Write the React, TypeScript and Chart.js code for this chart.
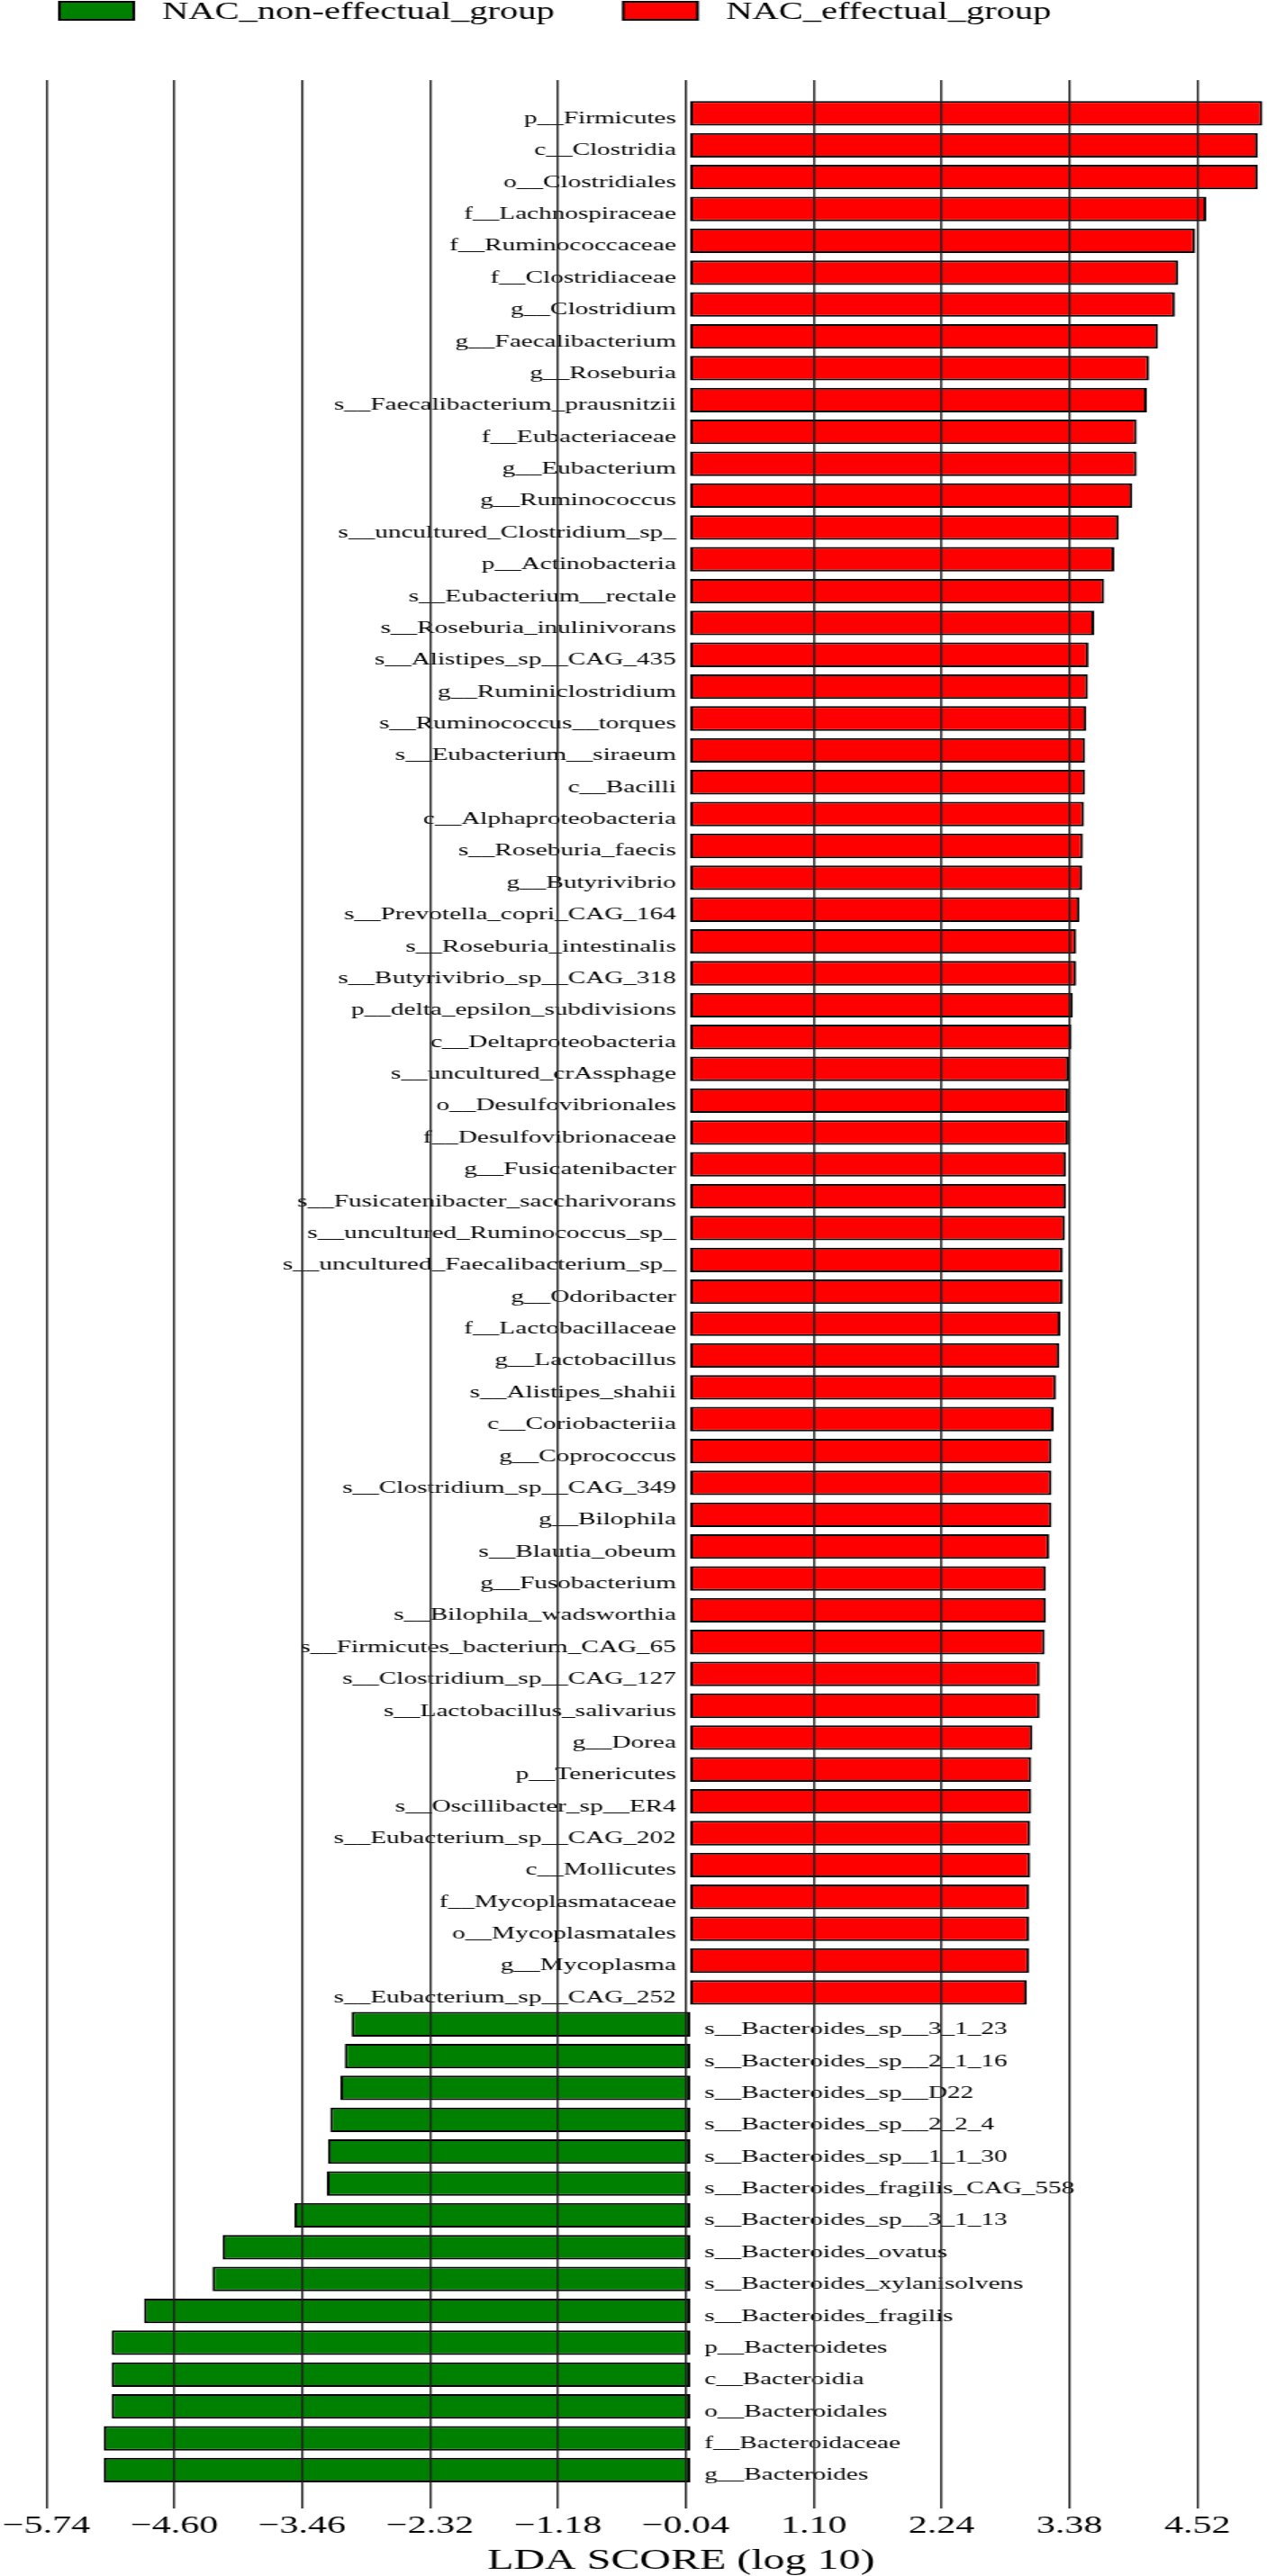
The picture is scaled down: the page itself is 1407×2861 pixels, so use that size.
import React, { useEffect, useRef } from "react";
import { Chart, registerables } from "chart.js";

Chart.register(...registerables);

// ---- data ----
const effectualLabels = [
  "p__Firmicutes",
  "c__Clostridia",
  "o__Clostridiales",
  "f__Lachnospiraceae",
  "f__Ruminococcaceae",
  "f__Clostridiaceae",
  "g__Clostridium",
  "g__Faecalibacterium",
  "g__Roseburia",
  "s__Faecalibacterium_prausnitzii",
  "f__Eubacteriaceae",
  "g__Eubacterium",
  "g__Ruminococcus",
  "s__uncultured_Clostridium_sp_",
  "p__Actinobacteria",
  "s__Eubacterium__rectale",
  "s__Roseburia_inulinivorans",
  "s__Alistipes_sp__CAG_435",
  "g__Ruminiclostridium",
  "s__Ruminococcus__torques",
  "s__Eubacterium__siraeum",
  "c__Bacilli",
  "c__Alphaproteobacteria",
  "s__Roseburia_faecis",
  "g__Butyrivibrio",
  "s__Prevotella_copri_CAG_164",
  "s__Roseburia_intestinalis",
  "s__Butyrivibrio_sp__CAG_318",
  "p__delta_epsilon_subdivisions",
  "c__Deltaproteobacteria",
  "s__uncultured_crAssphage",
  "o__Desulfovibrionales",
  "f__Desulfovibrionaceae",
  "g__Fusicatenibacter",
  "s__Fusicatenibacter_saccharivorans",
  "s__uncultured_Ruminococcus_sp_",
  "s__uncultured_Faecalibacterium_sp_",
  "g__Odoribacter",
  "f__Lactobacillaceae",
  "g__Lactobacillus",
  "s__Alistipes_shahii",
  "c__Coriobacteriia",
  "g__Coprococcus",
  "s__Clostridium_sp__CAG_349",
  "g__Bilophila",
  "s__Blautia_obeum",
  "g__Fusobacterium",
  "s__Bilophila_wadsworthia",
  "s__Firmicutes_bacterium_CAG_65",
  "s__Clostridium_sp__CAG_127",
  "s__Lactobacillus_salivarius",
  "g__Dorea",
  "p__Tenericutes",
  "s__Oscillibacter_sp__ER4",
  "s__Eubacterium_sp__CAG_202",
  "c__Mollicutes",
  "f__Mycoplasmataceae",
  "o__Mycoplasmatales",
  "g__Mycoplasma",
  "s__Eubacterium_sp__CAG_252",
];

const effectualScores = [
  5.1, 5.06, 5.06, 4.6, 4.5, 4.35, 4.32, 4.17, 4.09, 4.07,
  3.98, 3.98, 3.94, 3.82, 3.78, 3.69, 3.6, 3.55, 3.545, 3.53,
  3.52, 3.52, 3.51, 3.5, 3.495, 3.47, 3.44, 3.44, 3.41, 3.4,
  3.375, 3.37, 3.37, 3.35, 3.35, 3.34, 3.32, 3.32, 3.3, 3.29,
  3.26, 3.24, 3.22, 3.22, 3.22, 3.2, 3.17, 3.17, 3.16, 3.115,
  3.115, 3.05, 3.04, 3.04, 3.03, 3.03, 3.02, 3.02, 3.02, 3.0,
];

const nonEffectualLabels = [
  "s__Bacteroides_sp__3_1_23",
  "s__Bacteroides_sp__2_1_16",
  "s__Bacteroides_sp__D22",
  "s__Bacteroides_sp__2_2_4",
  "s__Bacteroides_sp__1_1_30",
  "s__Bacteroides_fragilis_CAG_558",
  "s__Bacteroides_sp__3_1_13",
  "s__Bacteroides_ovatus",
  "s__Bacteroides_xylanisolvens",
  "s__Bacteroides_fragilis",
  "p__Bacteroidetes",
  "c__Bacteroidia",
  "o__Bacteroidales",
  "f__Bacteroidaceae",
  "g__Bacteroides",
];

const nonEffectualScores = [
  -3.02, -3.08, -3.12, -3.21, -3.23, -3.24, -3.53, -4.17, -4.26, -4.87,
  -5.16, -5.16, -5.16, -5.23, -5.23,
];

const xTickValues = [-5.74, -4.6, -3.46, -2.32, -1.18, -0.04, 1.1, 2.24, 3.38, 4.52];
const legendLabels = ["NAC_non-effectual_group", "NAC_effectual_group"];
const groupColors = ["#008000", "#ff0000"];
const axisTitle = "LDA SCORE (log 10)";

const categories = [...effectualLabels, ...nonEffectualLabels];

// ---- layout constants ----
// The drawing is made 974 px wide and stretched 1.5x horizontally (like the
// reference); the axes run a little past the right edge of the 1407 px view.
const CANVAS_W = 974;
const CANVAS_H = 2861;
const STRETCH = 1.5;
const VIEW_W = 1407;
const SERIF = '"Liberation Serif", "Times New Roman", serif';

const fmtTick = (v: number) =>
  v < 0 ? "\u2212" + Math.abs(v).toFixed(2) : v.toFixed(2);

const labelPlugin = {
  id: "lefseLabels",
  afterDatasetsDraw(chart: any) {
    const ctx = chart.ctx;
    const xs = chart.scales.x;
    const zeroX = xs.getPixelForValue(0);
    ctx.save();
    ctx.font = `19.5px ${SERIF}`;
    ctx.fillStyle = "#000";
    ctx.textBaseline = "alphabetic";
    chart.data.datasets.forEach((ds: any, di: number) => {
      const meta = chart.getDatasetMeta(di);
      meta.data.forEach((bar: any, i: number) => {
        const raw = ds.data[i];
        const name = categories[raw.y];
        const pos = raw.x >= 0;
        ctx.textAlign = pos ? "right" : "left";
        ctx.fillText(name, zeroX + (pos ? -10.5 : 10.5), bar.y + 11);
      });
    });
    ctx.restore();
  },
};

const legendPlugin = {
  id: "lefseLegend",
  afterDraw(chart: any) {
    const ctx = chart.ctx;
    ctx.save();
    ctx.font = `27px ${SERIF}`;
    ctx.textBaseline = "alphabetic";
    ctx.textAlign = "left";
    let x = chart.chartArea.left + 9.6;
    const boxW = 55;
    const boxH = 20;
    const boxY = 2;
    legendLabels.forEach((label, i) => {
      ctx.fillStyle = groupColors[i];
      ctx.fillRect(x, boxY, boxW, boxH);
      ctx.strokeStyle = "#000";
      ctx.lineWidth = 2;
      ctx.strokeRect(x, boxY, boxW, boxH);
      ctx.fillStyle = "#000";
      ctx.fillText(label, x + 76, 21);
      x += 76 + ctx.measureText(label).width + 51;
    });
    ctx.restore();
  },
};

export default function App() {
  const canvasRef = useRef<HTMLCanvasElement | null>(null);

  useEffect(() => {
    const canvas = canvasRef.current;
    if (!canvas) return;

    const redData = effectualScores.map((v, i) => ({ x: v, y: i }));
    const greenData = nonEffectualScores.map((v, i) => ({
      x: v,
      y: effectualLabels.length + i,
    }));

    const chart = new Chart(canvas, {
      type: "bar",
      data: {
        datasets: [
          {
            label: legendLabels[1],
            data: redData,
            backgroundColor: groupColors[1],
          },
          {
            label: legendLabels[0],
            data: greenData,
            backgroundColor: groupColors[0],
          },
        ],
      },
      options: {
        indexAxis: "y",
        responsive: false,
        animation: false,
        devicePixelRatio: 1,
        layout: {
          padding: { top: 89, left: 31.1, right: 0, bottom: 0 },
          autoPadding: false,
        },
        datasets: {
          bar: {
            grouped: false,
            barPercentage: 0.772,
            categoryPercentage: 1,
            borderWidth: 2,
            borderColor: "#000",
            borderSkipped: false,
          },
        },
        plugins: {
          legend: { display: false },
          tooltip: { enabled: false },
          title: { display: false },
        },
        scales: {
          x: {
            type: "linear",
            position: "bottom",
            min: -5.74,
            max: 5.575,
            afterBuildTicks: (scale: any) => {
              scale.ticks = xTickValues.map((v) => ({ value: v }));
            },
            grid: {
              color: "#222",
              lineWidth: 1.5,
              drawTicks: false,
              z: 1,
            },
            border: { display: false },
            ticks: {
              autoSkip: false,
              maxRotation: 0,
              minRotation: 0,
              padding: 2,
              color: "#000",
              font: { family: SERIF, size: 28, lineHeight: 1.2 },
              callback: (v: any) => fmtTick(Number(v)),
            },
            title: {
              display: true,
              text: axisTitle,
              color: "#000",
              font: { family: SERIF, size: 32, lineHeight: 1.0 },
              padding: { top: 5, bottom: 0 },
            },
          },
          y: {
            type: "linear",
            reverse: true,
            offset: false,
            min: -1.045,
            max: categories.length - 1 + 1.215,
            display: false,
            grid: { offset: false },
          },
        },
      } as any,
      plugins: [labelPlugin, legendPlugin],
    });

    return () => chart.destroy();
  }, []);

  return (
    <div
      style={{
        position: "absolute",
        left: 0,
        top: 0,
        width: `${VIEW_W}px`,
        height: `${CANVAS_H}px`,
        overflow: "hidden",
        background: "#fff",
      }}
    >
      <canvas
        ref={canvasRef}
        width={CANVAS_W}
        height={CANVAS_H}
        style={{
          display: "block",
          width: `${CANVAS_W * STRETCH}px`,
          height: `${CANVAS_H}px`,
        }}
      />
    </div>
  );
}
